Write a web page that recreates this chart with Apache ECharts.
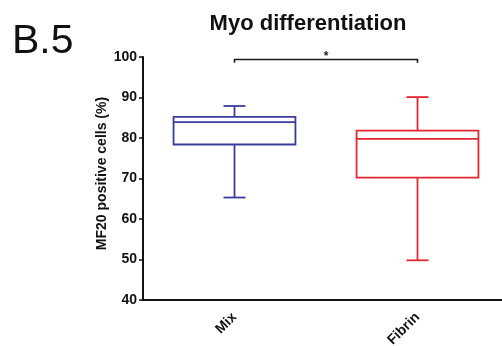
<!DOCTYPE html>
<html>
<head>
<meta charset="utf-8">
<script src="https://cdn.jsdelivr.net/npm/echarts@6/dist/echarts.min.js"></script>
<style>
html,body{margin:0;padding:0;background:#fff;}
#chart{width:502px;height:346px;}
</style>
</head>
<body>
<div id="chart"></div>
<script>
// ---- data ----
var categories = ['Mix', 'Fibrin'];
var whiskerLow = [65.3, 49.8];
var q1 = [78.4, 70.2];
var median = [83.9, 79.8];
var q3 = [85.2, 81.8];
var whiskerHigh = [87.9, 90.1];
var boxColors = ['#3a3d9c', '#e3262f'];
var yTicks = [40, 50, 60, 70, 80, 90, 100];
var sigFrom = 0, sigTo = 1, sigLevel = 99.4, sigDrop = 0.8, sigText = '*';

var FONT = "'Liberation Sans', Arial, sans-serif";

var boxData = categories.map(function (c, i) {
  return [i, whiskerLow[i], q1[i], median[i], q3[i], whiskerHigh[i]];
});

function renderBox(params, api) {
  var idx = api.value(0);
  var bandW = api.size([1, 0])[0];
  var half = bandW * 0.333;
  var capHalf = 11;
  var pLow = api.coord([idx, api.value(1)]);
  var pQ1 = api.coord([idx, api.value(2)]);
  var pMed = api.coord([idx, api.value(3)]);
  var pQ3 = api.coord([idx, api.value(4)]);
  var pHigh = api.coord([idx, api.value(5)]);
  var cx = pMed[0];
  var color = boxColors[params.dataIndex];
  var st = {stroke: color, lineWidth: 1.8, fill: null};
  return {
    type: 'group',
    children: [
      {type: 'rect', shape: {x: cx - half, y: pQ3[1], width: half * 2, height: pQ1[1] - pQ3[1]}, style: {stroke: color, lineWidth: 1.8, fill: 'none'}},
      {type: 'line', shape: {x1: cx - half, y1: pMed[1], x2: cx + half, y2: pMed[1]}, style: st},
      {type: 'line', shape: {x1: cx, y1: pQ3[1], x2: cx, y2: pHigh[1]}, style: st},
      {type: 'line', shape: {x1: cx, y1: pQ1[1], x2: cx, y2: pLow[1]}, style: st},
      {type: 'line', shape: {x1: cx - capHalf, y1: pHigh[1], x2: cx + capHalf, y2: pHigh[1]}, style: st},
      {type: 'line', shape: {x1: cx - capHalf, y1: pLow[1], x2: cx + capHalf, y2: pLow[1]}, style: st}
    ]
  };
}

function renderSig(params, api) {
  var a = api.coord([api.value(0), api.value(2)]);
  var b = api.coord([api.value(1), api.value(2)]);
  var aD = api.coord([api.value(0), api.value(2) - api.value(3)]);
  var st = {stroke: '#1a1a1a', lineWidth: 1.6, fill: null};
  return {
    type: 'group',
    children: [
      {type: 'polyline', shape: {points: [[a[0], aD[1]], [a[0], a[1]], [b[0], b[1]], [b[0], aD[1]]]}, style: st},
      {type: 'text', style: {text: sigText, x: (a[0] + b[0]) / 2, y: a[1] - 3, textAlign: 'center', textVerticalAlign: 'middle', font: 'bold 12px ' + FONT, fill: '#222'}}
    ]
  };
}

var chart = echarts.init(document.getElementById('chart'), null, {renderer: 'canvas'});
chart.setOption({
  backgroundColor: '#fff',
  animation: false,
  title: {
    text: 'Myo differentiation',
    left: 308, top: 13, padding: 0, textAlign: 'center',
    textStyle: {fontFamily: FONT, fontWeight: 'bold', fontSize: 22, color: '#111'}
  },
  graphic: [{
    type: 'text', left: 12, top: 21,
    style: {text: 'B.5', font: '41px ' + FONT, fill: '#111'}
  }],
  grid: {left: 143, top: 57, width: 366, height: 243, outerBoundsMode: 'none', containLabel: false},
  xAxis: {
    type: 'category', data: categories, boundaryGap: true,
    axisLine: {lineStyle: {color: '#111', width: 2}},
    axisTick: {alignWithLabel: true, length: 3, lineStyle: {color: '#111', width: 1.5}},
    axisLabel: {rotate: 45, margin: 15, color: '#111', fontFamily: FONT, fontWeight: 'bold', fontSize: 14}
  },
  yAxis: {
    type: 'value', min: yTicks[0], max: yTicks[yTicks.length - 1], interval: 10,
    name: 'MF20 positive cells (%)', nameLocation: 'middle', nameGap: 34, nameMoveOverlap: false,
    nameTextStyle: {color: '#111', fontFamily: FONT, fontWeight: 'bold', fontSize: 14, padding: [0, 0, 0, 10]},
    axisLine: {show: true, lineStyle: {color: '#111', width: 2}},
    axisTick: {show: true, length: 4, lineStyle: {color: '#111', width: 1.5}},
    axisLabel: {margin: 6, color: '#111', fontFamily: FONT, fontWeight: 'bold', fontSize: 14},
    splitLine: {show: false}
  },
  series: [
    {type: 'custom', renderItem: renderBox, data: boxData, encode: {x: 0, y: [1, 2, 3, 4, 5]}, clip: false},
    {type: 'custom', renderItem: renderSig, data: [[sigFrom, sigTo, sigLevel, sigDrop]], encode: {x: [0, 1], y: 2}, clip: false}
  ]
});
</script>
</body>
</html>
